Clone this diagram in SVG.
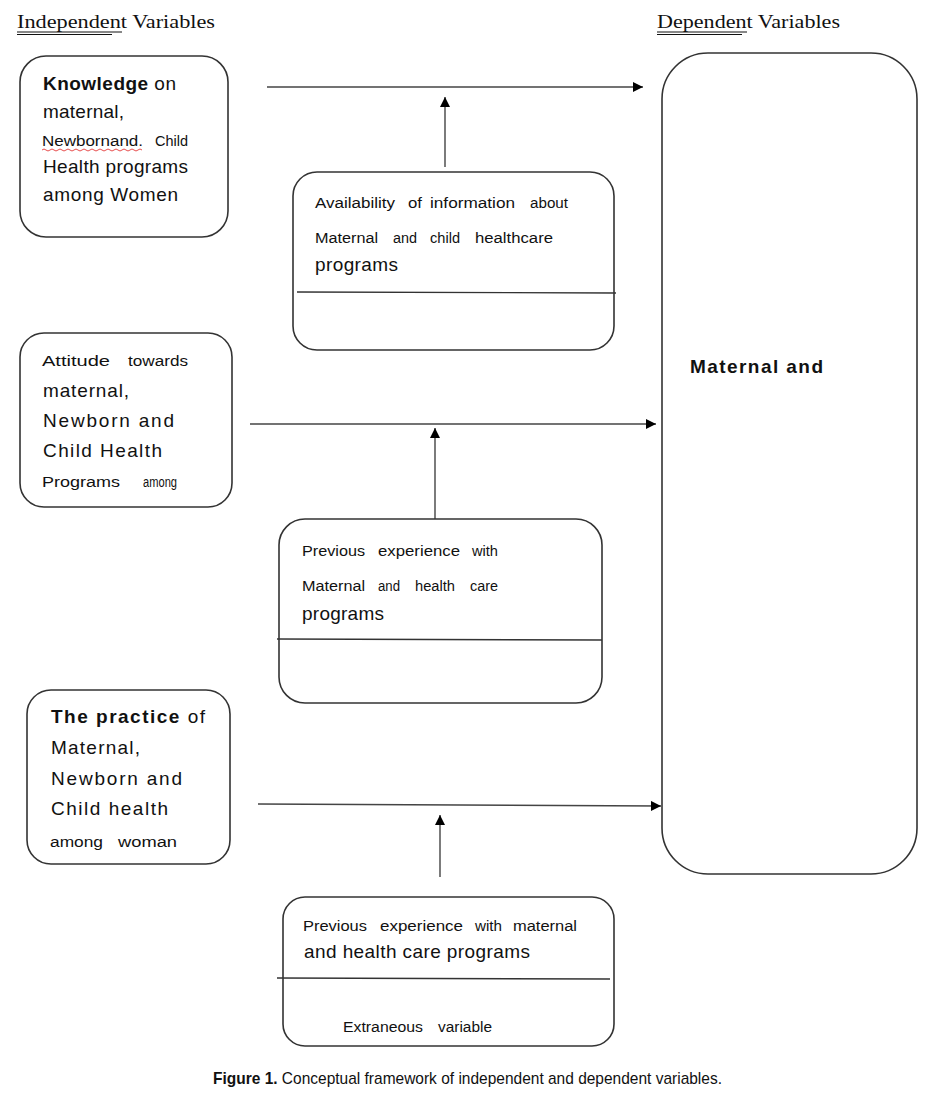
<svg xmlns="http://www.w3.org/2000/svg" width="929" height="1093" viewBox="0 0 929 1093">
<defs>
<marker id="ah" viewBox="0 0 10 10" refX="10" refY="5" markerWidth="10" markerHeight="10" markerUnits="userSpaceOnUse" orient="auto">
<path d="M0,0 L10,5 L0,10 z" fill="#000"/>
</marker>
<style>
.box{fill:#fff;stroke:#333;stroke-width:1.6}
.div{stroke:#333;stroke-width:1.4}
.cn{stroke:#444;stroke-width:1.4;fill:none;marker-end:url(#ah)}
.hd{font-family:"Liberation Serif",serif;font-size:19px;fill:#111}
.t{font-family:"Liberation Sans",Arial,sans-serif;font-size:19px;fill:#111}
.s{font-family:"Liberation Sans",Arial,sans-serif;font-size:15.5px;fill:#111}
.b{font-weight:bold}
.cap{font-family:"Liberation Sans",Arial,sans-serif;font-size:17px;fill:#111}
</style>
</defs>

<g id="headers">
<text class="hd" x="17" y="28" textLength="198" lengthAdjust="spacingAndGlyphs">Independent Variables</text>
<line x1="17" y1="32" x2="122" y2="32" stroke="#111" stroke-width="1"/>
<line x1="17" y1="34.5" x2="112" y2="34.5" stroke="#111" stroke-width="1"/>
<text class="hd" x="657" y="28" textLength="183" lengthAdjust="spacingAndGlyphs">Dependent Variables</text>
<line x1="657" y1="32" x2="747" y2="32" stroke="#111" stroke-width="1"/>
<line x1="657" y1="34.5" x2="742" y2="34.5" stroke="#111" stroke-width="1"/>
</g>

<g id="connectors">
<line class="cn" x1="267" y1="87" x2="643" y2="87"/>
<line class="cn" x1="445" y1="167" x2="445" y2="97"/>
<line class="cn" x1="250" y1="424" x2="656" y2="424"/>
<line class="cn" x1="435" y1="519" x2="435" y2="428"/>
<line class="cn" x1="258" y1="804" x2="661" y2="806"/>
<line class="cn" x1="440" y1="877" x2="440" y2="815"/>
</g>

<g id="knowledge">
<rect class="box" x="20" y="56" width="208" height="181" rx="26"/>
<text class="t" x="43" y="90" textLength="133"><tspan class="b">Knowledge</tspan>  on</text>
<text class="t" x="43" y="118" textLength="81">maternal,</text>
<text class="s" x="42" y="146" textLength="101" lengthAdjust="spacingAndGlyphs">Newbornand.</text>
<text class="s" x="155" y="146" textLength="33" lengthAdjust="spacingAndGlyphs">Child</text>
<path d="M42,150 q2,-2 4,0 t4,0 t4,0 t4,0 t4,0 t4,0 t4,0 t4,0 t4,0 t4,0 t4,0 t4,0 t4,0 t4,0 t4,0 t4,0 t4,0 t4,0 t4,0 t4,0 t4,0 t4,0 t4,0 t4,0 t4,0" fill="none" stroke="#e02020" stroke-width="0.8"/>
<text class="t" x="43" y="173" textLength="145">Health programs</text>
<text class="t" x="43" y="201" textLength="135">among Women</text>
</g>

<g id="availability">
<rect class="box" x="293" y="172" width="321" height="178" rx="24"/>
<line class="div" x1="297" y1="292" x2="616" y2="293"/>
<text class="s" y="208">
<tspan x="315" textLength="80" lengthAdjust="spacingAndGlyphs">Availability</tspan>
<tspan x="408" textLength="14" lengthAdjust="spacingAndGlyphs">of</tspan>
<tspan x="430" textLength="85" lengthAdjust="spacingAndGlyphs">information</tspan>
<tspan x="530" textLength="38" lengthAdjust="spacingAndGlyphs">about</tspan>
</text>
<text class="s" y="243">
<tspan x="315" textLength="63" lengthAdjust="spacingAndGlyphs">Maternal</tspan>
<tspan x="393" textLength="24" lengthAdjust="spacingAndGlyphs">and</tspan>
<tspan x="430" textLength="30" lengthAdjust="spacingAndGlyphs">child</tspan>
<tspan x="475" textLength="78" lengthAdjust="spacingAndGlyphs">healthcare</tspan>
</text>
<text class="t" x="315" y="271" textLength="83">programs</text>
</g>

<g id="attitude">
<rect class="box" x="20" y="333" width="212" height="174" rx="24"/>
<text class="s" y="366">
<tspan x="42" textLength="68" lengthAdjust="spacingAndGlyphs">Attitude</tspan>
<tspan x="128" textLength="60" lengthAdjust="spacingAndGlyphs">towards</tspan>
</text>
<text class="t" x="43" y="397" textLength="86">maternal,</text>
<text class="t" x="43" y="427" textLength="131">Newborn and</text>
<text class="t" x="43" y="457" textLength="119">Child Health</text>
<text class="s" y="487">
<tspan x="42" textLength="78" lengthAdjust="spacingAndGlyphs">Programs</tspan>
<tspan x="143" textLength="34" lengthAdjust="spacingAndGlyphs">among</tspan>
</text>
</g>

<g id="experience1">
<rect class="box" x="279" y="519" width="323" height="184" rx="26"/>
<line class="div" x1="277" y1="639" x2="602" y2="640"/>
<text class="s" y="556">
<tspan x="302" textLength="63" lengthAdjust="spacingAndGlyphs">Previous</tspan>
<tspan x="378" textLength="82" lengthAdjust="spacingAndGlyphs">experience</tspan>
<tspan x="472" textLength="26" lengthAdjust="spacingAndGlyphs">with</tspan>
</text>
<text class="s" y="591">
<tspan x="302" textLength="63" lengthAdjust="spacingAndGlyphs">Maternal</tspan>
<tspan x="378" textLength="22" lengthAdjust="spacingAndGlyphs">and</tspan>
<tspan x="415" textLength="40" lengthAdjust="spacingAndGlyphs">health</tspan>
<tspan x="470" textLength="28" lengthAdjust="spacingAndGlyphs">care</tspan>
</text>
<text class="t" x="302" y="620" textLength="82">programs</text>
</g>

<g id="practice">
<rect class="box" x="27" y="690" width="203" height="174" rx="24"/>
<text class="t" x="51" y="723" textLength="154"><tspan class="b">The practice</tspan>  of</text>
<text class="t" x="51" y="754" textLength="89">Maternal,</text>
<text class="t" x="51" y="785" textLength="131">Newborn and</text>
<text class="t" x="51" y="815" textLength="117">Child health</text>
<text class="s" y="847">
<tspan x="50" textLength="53" lengthAdjust="spacingAndGlyphs">among</tspan>
<tspan x="118" textLength="59" lengthAdjust="spacingAndGlyphs">woman</tspan>
</text>
</g>

<g id="experience2">
<rect class="box" x="283" y="897" width="331" height="149" rx="22"/>
<line class="div" x1="277" y1="978" x2="610" y2="979"/>
<text class="s" y="931">
<tspan x="303" textLength="64" lengthAdjust="spacingAndGlyphs">Previous</tspan>
<tspan x="380" textLength="83" lengthAdjust="spacingAndGlyphs">experience</tspan>
<tspan x="475" textLength="27" lengthAdjust="spacingAndGlyphs">with</tspan>
<tspan x="513" textLength="64" lengthAdjust="spacingAndGlyphs">maternal</tspan>
</text>
<text class="t" x="304" y="958" textLength="226">and health care  programs</text>
<text class="s" y="1032">
<tspan x="343" textLength="80" lengthAdjust="spacingAndGlyphs">Extraneous</tspan>
<tspan x="438" textLength="54" lengthAdjust="spacingAndGlyphs">variable</tspan>
</text>
</g>

<g id="outcome">
<rect class="box" x="662" y="53" width="255" height="821" rx="46"/>
<text class="t b" x="690" y="373" textLength="133">Maternal  and</text>
</g>

<g id="caption">
<text class="cap" x="213" y="1084" textLength="509" lengthAdjust="spacingAndGlyphs"><tspan class="b">Figure 1.</tspan> Conceptual framework of independent and dependent variables.</text>
</g>
</svg>
